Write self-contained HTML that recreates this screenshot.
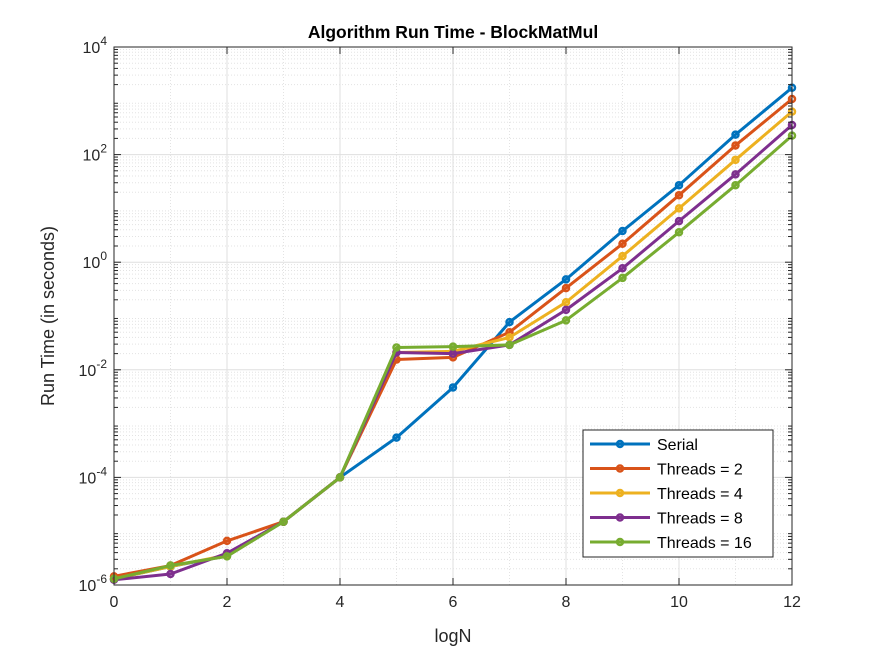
<!DOCTYPE html>
<html><head><meta charset="utf-8"><style>
body{margin:0;background:#fff;}
svg{font-family:"Liberation Sans",Arial,sans-serif;}
</style></head><body>
<svg id="chart" width="875" height="656" viewBox="0 0 875 656" xmlns="http://www.w3.org/2000/svg">
<rect x="0" y="0" width="875" height="656" fill="#fff"/>
<g id="grid"></g>
<g id="series"></g>
<g id="axes"></g>
<text x="453" y="38" text-anchor="middle" font-size="17.5" font-weight="bold" fill="#000">Algorithm Run Time - BlockMatMul</text>
<text x="453" y="642" text-anchor="middle" font-size="18" fill="#262626">logN</text>
<text transform="translate(54,316) rotate(-90)" text-anchor="middle" font-size="18" fill="#262626">Run Time (in seconds)</text>
<g id="legend"></g>
</svg>
<script>
const xValues=[0,1,2,3,4,5,6,7,8,9,10,11,12];
const seriesNames=["Serial","Threads = 2","Threads = 4","Threads = 8","Threads = 16"];
const serial=[1.3e-6,2.2e-6,3.5e-6,1.5e-5,1e-4,5.5e-4,4.7e-3,0.077,0.48,3.8,27,235,1750];
const threads2=[1.45e-6,2.3e-6,6.6e-6,1.5e-5,1e-4,0.0155,0.017,0.05,0.33,2.2,17.6,148,1080];
const threads4=[1.3e-6,2.2e-6,3.6e-6,1.5e-5,1e-4,0.021,0.022,0.04,0.18,1.3,10,80,630];
const threads8=[1.25e-6,1.6e-6,3.9e-6,1.5e-5,1e-4,0.021,0.02,0.029,0.13,0.77,5.8,43,355];
const threads16=[1.3e-6,2.3e-6,3.4e-6,1.5e-5,1e-4,0.026,0.027,0.029,0.083,0.51,3.6,27,225];
const xTicks=[0,2,4,6,8,10,12];
const yTickExps=[-6,-4,-2,0,2,4];
const colors=["#0072BD","#D95319","#EDB120","#7E2F8E","#77AC30"];
const allSeries=[serial,threads2,threads4,threads8,threads16];
const L=114,R=792,T=47,B=585;
const xs=v=>L+(v-0)/(12-0)*(R-L);
const ys=v=>B-(Math.log10(v)+6)/10*(B-T);
const NS="http://www.w3.org/2000/svg";
function mk(tag,attrs,parent){const e=document.createElementNS(NS,tag);for(const k in attrs)e.setAttribute(k,attrs[k]);parent.appendChild(e);return e;}
const grid=document.getElementById('grid'),axes=document.getElementById('axes'),ser=document.getElementById('series'),leg=document.getElementById('legend');
for(let e=-6;e<4;e++)for(let m=2;m<=9;m++){const y=ys(m*Math.pow(10,e));
 const l=mk('line',{x1:L,x2:R,y1:y,y2:y,stroke:"#e3e3e3","stroke-width":1,"stroke-dasharray":"1,2"},grid);
 
 mk('line',{x1:L,x2:L+4,y1:y,y2:y,stroke:"#262626"},axes);mk('line',{x1:R,x2:R-4,y1:y,y2:y,stroke:"#262626"},axes);}
for(let x=1;x<12;x+=2){const px=xs(x);const l=mk('line',{x1:px,x2:px,y1:T,y2:B,stroke:"#e3e3e3","stroke-width":1,"stroke-dasharray":"1,2"},grid);
 }
xTicks.forEach(t=>{const px=xs(t);const l=mk('line',{x1:px,x2:px,y1:T,y2:B,stroke:"#dfdfdf"},grid);
 
 mk('line',{x1:px,x2:px,y1:B,y2:B-7,stroke:"#262626"},axes);mk('line',{x1:px,x2:px,y1:T,y2:T+7,stroke:"#262626"},axes);
 const tx=mk('text',{x:px,y:B+22,"text-anchor":"middle","font-size":16,fill:"#262626"},axes);tx.textContent=t;
 });
yTickExps.forEach(e=>{const py=ys(Math.pow(10,e));const l=mk('line',{x1:L,x2:R,y1:py,y2:py,stroke:"#dfdfdf"},grid);
 
 mk('line',{x1:L,x2:L+7,y1:py,y2:py,stroke:"#262626"},axes);mk('line',{x1:R,x2:R-7,y1:py,y2:py,stroke:"#262626"},axes);
 const tx=mk('text',{x:L-7,y:py+6,"text-anchor":"end","font-size":16,fill:"#262626"},axes);
 
 const a=document.createElementNS(NS,'tspan');a.textContent='10';tx.appendChild(a);
 const b=document.createElementNS(NS,'tspan');b.setAttribute('dy','-8');b.setAttribute('font-size','12');b.textContent=String(e);tx.appendChild(b);});
const box=mk('rect',{x:L,y:T,width:R-L,height:B-T,fill:"none",stroke:"#262626","stroke-width":1},axes);

allSeries.forEach((d,i)=>{const g=mk('g',{},ser);
 const pts=d.map((v,j)=>xs(xValues[j])+','+ys(v)).join(' ');
 const pl=mk('polyline',{points:pts,fill:"none",stroke:colors[i],"stroke-width":3,"stroke-linejoin":"round"},g);
 
 d.forEach((v,j)=>{const c=mk('circle',{cx:xs(xValues[j]),cy:ys(v),r:3,fill:"none",stroke:colors[i],"stroke-width":2.5},g);
  });});
const lb=mk('rect',{x:583,y:430,width:190,height:127,fill:"#fff",stroke:"#262626","stroke-width":1},leg);

seriesNames.forEach((n,i)=>{const y=444+i*24.5;const g=mk('g',{},leg);
 
 mk('line',{x1:590,x2:650,y1:y,y2:y,stroke:colors[i],"stroke-width":3},g);
 mk('circle',{cx:620,cy:y,r:3,fill:"none",stroke:colors[i],"stroke-width":2.5},g);
 const t=mk('text',{x:657,y:y+6,"font-size":16,fill:"#000"},g);t.textContent=n;});
</script>
</body></html>
